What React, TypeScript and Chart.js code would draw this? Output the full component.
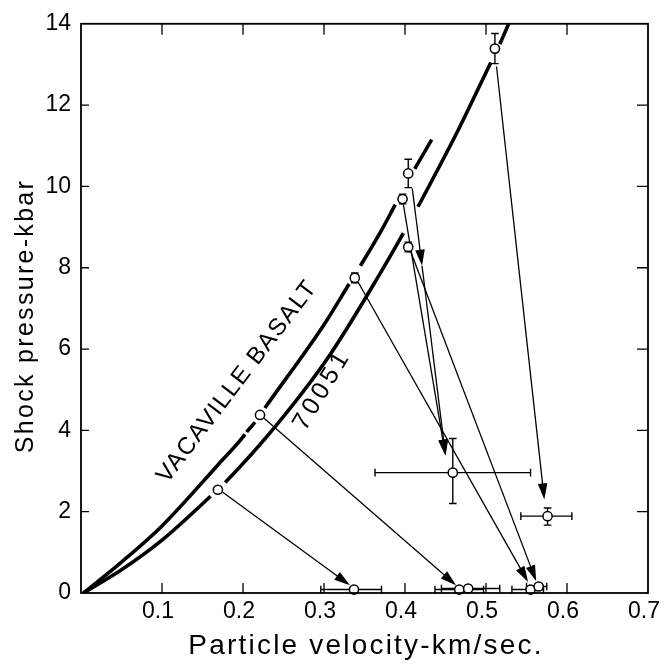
import React, { useEffect, useRef } from 'react';
import { Chart, registerables } from 'chart.js';

Chart.register(...registerables);

// ---- axis ticks ----
const xTickValues = [0.1, 0.2, 0.3, 0.4, 0.5, 0.6];
const yTickValues = [2, 4, 6, 8, 10, 12];
const xTitle = 'Particle velocity-km/sec.';
const yTitle = 'Shock pressure-kbar';

// ---- Hugoniot curves ----
const vacavilleX = [0.003, 0.05, 0.1, 0.169, 0.2025, 0.2045, 0.2148, 0.227, 0.3, 0.331, 0.345, 0.369, 0.388, 0.412, 0.433];
const vacavilleY = [0, 0.76, 1.65, 3.15, 3.9, 3.96, 4.2, 4.55, 6.6, 7.6, 8.05, 8.85, 9.55, 10.43, 11.15];
const vacavilleGaps = [[0.2025, 0.2045], [0.2148, 0.227], [0.331, 0.345], [0.388, 0.412]];
const vacavilleLabel = 'VACAVILLE BASALT';

const sampleX = [0.003, 0.05, 0.1, 0.16, 0.178, 0.24, 0.307, 0.369, 0.398, 0.416, 0.466, 0.506, 0.517, 0.528];
const sampleY = [0, 0.57, 1.3, 2.38, 2.72, 4.1, 5.85, 7.85, 8.85, 9.5, 11.4, 13.05, 13.5, 14.0];
const sampleGaps = [[0.16, 0.178], [0.398, 0.416], [0.506, 0.517]];
const sampleLabel = '70051';

// ---- shock states (on the curves) ----
const shockX = [0.169, 0.221, 0.338, 0.397, 0.404, 0.404, 0.511];
const shockY = [2.54, 4.38, 7.75, 9.69, 10.32, 8.51, 13.39];
const shockYErr = [0, 0, 0.12, 0.12, 0.35, 0.12, 0.37];

// ---- release states ----
const releaseX = [0.459, 0.576, 0.337, 0.467, 0.478, 0.555, 0.565];
const releaseY = [2.96, 1.89, 0.085, 0.085, 0.11, 0.085, 0.16];
const releaseXLow = [0.363, 0.543, 0.296, 0.437, 0.445, 0.532, 0.55];
const releaseXHigh = [0.555, 0.606, 0.371, 0.497, 0.517, 0.571, 0.575];
const releaseYLow = [2.2, 1.67, null, null, null, null, null];
const releaseYHigh = [3.8, 2.09, null, null, null, null, null];

// ---- arrows (start -> tip) ----
const arrowFromX = [0.175, 0.226, 0.342, 0.407, 0.409, 0.421, 0.398, 0.513];
const arrowFromY = [2.48, 4.3, 7.65, 8.4, 9.95, 8.05, 9.55, 12.95];
const arrowToX = [0.332, 0.463, 0.552, 0.562, 0.421, 0.45, 0.45, 0.572];
const arrowToY = [0.19, 0.19, 0.27, 0.29, 8.05, 3.38, 3.38, 2.3];

// ---- label placement (style) ----
const vacavilleLabelPos = { x: 0.193, y: 5.2, angle: -52.6 };
const sampleLabelPos = { x: 0.298, y: 5.0, angle: -59 };

const FONT = "'Liberation Sans', Arial, sans-serif";

function inGap(gaps: number[][], a: number, b: number) {
  const m = (a + b) / 2;
  return gaps.some(([g0, g1]) => m > g0 && m < g1);
}

function drawArrow(ctx: CanvasRenderingContext2D, x1: number, y1: number, x2: number, y2: number) {
  const dx = x2 - x1, dy = y2 - y1;
  const len = Math.hypot(dx, dy);
  const ux = dx / len, uy = dy / len;
  const L = 16, W = 4.8;
  const bx = x2 - ux * L, by = y2 - uy * L;
  ctx.beginPath();
  ctx.moveTo(x1, y1);
  ctx.lineTo(bx + ux * 2, by + uy * 2);
  ctx.stroke();
  ctx.beginPath();
  ctx.moveTo(x2, y2);
  ctx.lineTo(bx - uy * W, by + ux * W);
  ctx.lineTo(bx + uy * W, by - ux * W);
  ctx.closePath();
  ctx.fill();
}

const overlay = {
  id: 'overlay',
  beforeDatasetsDraw(chart: any) {
    const { ctx, scales } = chart;
    const xs = scales.x, ys = scales.y;
    ctx.save();
    ctx.strokeStyle = '#000';
    ctx.fillStyle = '#000';
    ctx.lineWidth = 1.3;
    for (let i = 0; i < arrowFromX.length; i++) {
      drawArrow(
        ctx,
        xs.getPixelForValue(arrowFromX[i]), ys.getPixelForValue(arrowFromY[i]),
        xs.getPixelForValue(arrowToX[i]), ys.getPixelForValue(arrowToY[i])
      );
    }
    const cap = 3.8;
    ctx.lineWidth = 1.4;
    for (let i = 0; i < shockX.length; i++) {
      if (!shockYErr[i]) continue;
      const px = xs.getPixelForValue(shockX[i]);
      const y0 = ys.getPixelForValue(shockY[i] - shockYErr[i]);
      const y1 = ys.getPixelForValue(shockY[i] + shockYErr[i]);
      ctx.beginPath();
      ctx.moveTo(px, y0); ctx.lineTo(px, y1);
      ctx.moveTo(px - cap, y0); ctx.lineTo(px + cap, y0);
      ctx.moveTo(px - cap, y1); ctx.lineTo(px + cap, y1);
      ctx.stroke();
    }
    for (let i = 0; i < releaseX.length; i++) {
      const px = xs.getPixelForValue(releaseX[i]);
      const py = ys.getPixelForValue(releaseY[i]);
      const x0 = xs.getPixelForValue(releaseXLow[i]);
      const x1 = xs.getPixelForValue(releaseXHigh[i]);
      ctx.beginPath();
      ctx.moveTo(x0, py); ctx.lineTo(x1, py);
      ctx.moveTo(x0, py - cap); ctx.lineTo(x0, py + cap);
      ctx.moveTo(x1, py - cap); ctx.lineTo(x1, py + cap);
      const lo = releaseYLow[i], hi = releaseYHigh[i];
      if (lo != null && hi != null) {
        const y0 = ys.getPixelForValue(lo);
        const y1 = ys.getPixelForValue(hi);
        ctx.moveTo(px, y0); ctx.lineTo(px, y1);
        ctx.moveTo(px - cap, y0); ctx.lineTo(px + cap, y0);
        ctx.moveTo(px - cap, y1); ctx.lineTo(px + cap, y1);
      }
      ctx.stroke();
    }
    ctx.restore();
  },
  afterDraw(chart: any) {
    const { ctx, chartArea: a, scales } = chart;
    const xs = scales.x, ys = scales.y;
    ctx.save();
    ctx.strokeStyle = '#000';
    ctx.fillStyle = '#000';
    ctx.lineWidth = 1.8;
    ctx.strokeRect(a.left, a.top, a.right - a.left, a.bottom - a.top);
    ctx.lineWidth = 1.3;
    ctx.beginPath();
    for (const v of xTickValues) {
      const px = xs.getPixelForValue(v);
      ctx.moveTo(px, a.bottom); ctx.lineTo(px, a.bottom - 10);
      ctx.moveTo(px, a.top); ctx.lineTo(px, a.top + 11);
    }
    for (const v of yTickValues) {
      const py = ys.getPixelForValue(v);
      ctx.moveTo(a.left, py); ctx.lineTo(a.left + 8, py);
      ctx.moveTo(a.right, py); ctx.lineTo(a.right - 11, py);
    }
    ctx.stroke();
    const label = (text: string, pos: { x: number; y: number; angle: number }, size: number, spacing: string) => {
      ctx.save();
      ctx.translate(xs.getPixelForValue(pos.x), ys.getPixelForValue(pos.y));
      ctx.rotate((pos.angle * Math.PI) / 180);
      ctx.font = `${size}px ${FONT}`;
      (ctx as any).letterSpacing = spacing;
      ctx.textAlign = 'center';
      ctx.textBaseline = 'middle';
      ctx.fillText(text, 0, 0);
      ctx.restore();
    };
    label(vacavilleLabel, vacavilleLabelPos, 24, '1.5px');
    label(sampleLabel, sampleLabelPos, 25, '4px');
    ctx.font = `28px ${FONT}`;
    (ctx as any).letterSpacing = '2.2px';
    ctx.textAlign = 'center';
    ctx.textBaseline = 'alphabetic';
    ctx.fillText(xTitle, 366, 654);
    ctx.save();
    ctx.translate(33, 316);
    ctx.rotate(-Math.PI / 2);
    ctx.font = `25px ${FONT}`;
    (ctx as any).letterSpacing = '2.3px';
    ctx.fillText(yTitle, 0, 0);
    ctx.restore();
    ctx.restore();
  },
};

export default function App() {
  const ref = useRef<HTMLCanvasElement>(null);
  useEffect(() => {
    const curve = (xsArr: number[], ysArr: number[], gaps: number[][], label: string) => ({
      type: 'line' as const,
      label,
      data: xsArr.map((x, i) => ({ x, y: ysArr[i] })),
      borderColor: '#000',
      borderWidth: 3.6,
      pointRadius: 0,
      fill: false,
      cubicInterpolationMode: 'monotone' as const,
      borderCapStyle: 'butt' as const,
      order: 2,
      segment: {
        borderColor: (c: any) => (inGap(gaps, c.p0.parsed.x, c.p1.parsed.x) ? 'rgba(0,0,0,0)' : undefined),
      },
    });
    const points = [
      ...shockX.map((x, i) => ({ x, y: shockY[i] })),
      ...releaseX.map((x, i) => ({ x, y: releaseY[i] })),
    ];
    const chart = new Chart(ref.current!, {
      type: 'scatter',
      data: {
        datasets: [
          {
            type: 'scatter',
            label: 'states',
            data: points,
            pointRadius: 4.6,
            pointBackgroundColor: '#fff',
            pointBorderColor: '#000',
            pointBorderWidth: 1.5,
            showLine: false,
            clip: false as any,
            order: 0,
          } as any,
          curve(vacavilleX, vacavilleY, vacavilleGaps, vacavilleLabel) as any,
          curve(sampleX, sampleY, sampleGaps, sampleLabel) as any,
        ],
      },
      options: {
        responsive: false,
        devicePixelRatio: 1,
        animation: false,
        layout: { padding: { left: 0, right: 23, top: 15, bottom: 0 } },
        plugins: { legend: { display: false }, tooltip: { enabled: false } },
        scales: {
          x: {
            type: 'linear',
            min: 0,
            max: 0.7,
            grid: { display: false, drawTicks: false },
            border: { display: false },
            afterFit: (s: any) => { s.height = 72; },
            ticks: {
              stepSize: 0.1,
              padding: 5,
              maxRotation: 0,
              labelOffset: -4,
              color: '#000',
              font: { family: FONT, size: 23 },
              callback: (v: any) => (Math.abs(v) < 1e-9 ? '' : Number(v).toFixed(1)),
            },
          },
          y: {
            type: 'linear',
            min: 0,
            max: 14,
            grid: { display: false, drawTicks: false },
            border: { display: false },
            afterFit: (s: any) => { s.width = 81; },
            ticks: {
              stepSize: 2,
              padding: 10,
              color: '#000',
              font: { family: FONT, size: 23 },
              callback: (v: any) => String(v),
            },
          },
        },
      },
      plugins: [overlay],
    } as any);
    return () => chart.destroy();
  }, []);
  return (
    <div style={{ position: 'fixed', left: 0, top: 0, width: 671, height: 665, background: '#fff' }}>
      <canvas ref={ref} width={671} height={665} style={{ display: 'block' }} />
    </div>
  );
}
